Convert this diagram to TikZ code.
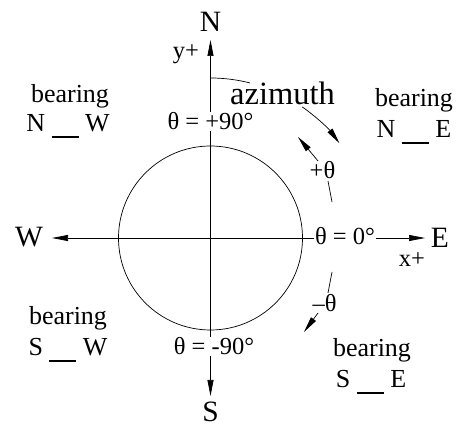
\documentclass[tikz,border=0pt]{standalone}
\usepackage{fontspec}
\setmainfont{Liberation Serif}
\newfontfamily\tnr{Liberation Serif}
\usetikzlibrary{arrows.meta}
\tikzset{
  line/.style={line width=0.7pt},
  arr/.style={line, -{Triangle[length=16pt,width=6pt]}},
  lbl/.style={inner sep=0pt, anchor=base},
  big/.style={lbl, font=\tnr\fontsize{29.5}{30}\selectfont},
  mid/.style={lbl, font=\tnr\fontsize{24.5}{25}\selectfont},
  brg/.style={lbl, font=\tnr\fontsize{26}{26}\selectfont},
  az/.style={lbl, font=\tnr\fontsize{32.5}{33}\selectfont},
  mask/.style={fill=white, inner sep=1pt},
}
\newcommand{\blank}{\rule[-6pt]{27pt}{2.2pt}}
\begin{document}
\begin{tikzpicture}[x=1pt,y=-1pt]
\useasboundingbox (0,0) rectangle (466,427);
\coordinate (C) at (210.5,238);
\coordinate (Ntip) at (210.5,40);
\coordinate (Stip) at (210.5,396);
\coordinate (Wtip) at (52,238);
\coordinate (Etip) at (425,238);
\draw[arr] (C) -- (Ntip);
\draw[arr] (C) -- (Stip);
\draw[arr] (C) -- (Wtip);
\draw[arr] (C) -- (Etip);
\draw[line] (C) circle[radius=92];
% azimuth arc
\draw[line] (C) ++(-90:160) arc[start angle=-90,end angle=-75.7,radius=160];
\draw[arr] (C) ++(-55:160) arc[start angle=-55,end angle=-36.3,radius=160];
% +theta
\coordinate (p1) at (332,202);
\coordinate (p2) at (328,181);
\coordinate (p3) at (318,161);
\coordinate (p4) at (298,137);
\draw[line] (p1) -- (p2);
\draw[arr] (p3) -- (p4);
% -theta
\coordinate (q1) at (332,272);
\coordinate (q2) at (328,293);
\coordinate (q3) at (318,313);
\coordinate (q4) at (304,332);
\draw[line] (q1) -- (q2);
\draw[arr] (q3) -- (q4);
% masked labels
\node[mid,mask] (t90) at (210.5,130) {θ = +90°};
\node[mid,mask] (tm90) at (214,355) {θ = -90°};
\node[mid,mask] (t0) at (345,245) {θ = 0°};
% compass letters
\node[big] (N) at (210.5,32) {N};
\node[big] (S) at (210.5,422) {S};
\node[big] (W) at (29,247) {W};
\node[big] (E) at (440,248) {E};
\node[mid] (yp) at (186,59) {y+};
\node[mid] (xp) at (412,267) {x+};
\node[mid] (pt) at (322.5,179) {+θ};
\node[mid] (mt) at (324.5,312) {–θ};
\node[az] (az) at (282.5,105) {azimuth};
% bearings
\node[brg] (b1) at (70,103) {bearing};
\node[brg] (b1s) at (68,132) {N \blank{} W};
\node[brg] (b2) at (414,107) {bearing};
\node[brg] (b2s) at (414,138) {N \blank{} E};
\node[brg] (b3) at (68,325) {bearing};
\node[brg] (b3s) at (68,356) {S \blank{} W};
\node[brg] (b4) at (372,357) {bearing};
\node[brg] (b4s) at (371,388) {S \blank{} E};
\end{tikzpicture}
\end{document}
